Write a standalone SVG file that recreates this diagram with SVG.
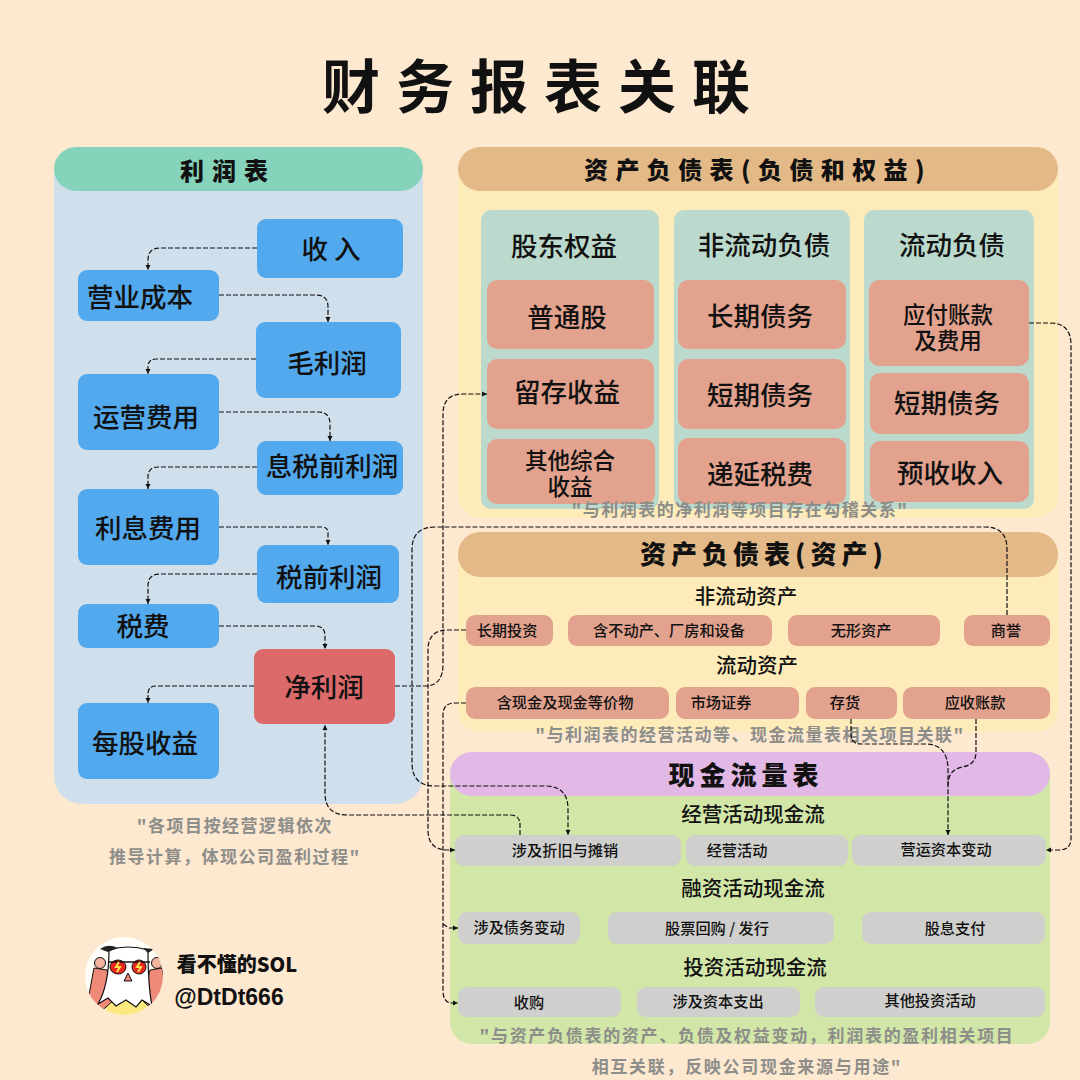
<svg xmlns="http://www.w3.org/2000/svg" width="1080" height="1080" viewBox="0 0 1080 1080">
<style>
text{font-family:"Noto Sans CJK SC","Noto Sans",sans-serif;text-anchor:middle;fill:#111}
.title{font-size:58px;font-weight:700;letter-spacing:16px}
.h{font-size:24px;font-weight:900;letter-spacing:7.4px}
.h1{font-size:24px;font-weight:900;letter-spacing:8px}
.h2{font-size:26px;font-weight:900;letter-spacing:5px}
.l{font-size:26.5px;font-weight:500}
.m{font-size:22.5px;font-weight:500}
.s{font-size:15.2px;font-weight:500}
.sub{font-size:20.5px;font-weight:500}
.cap{font-size:17px;font-weight:700;fill:#8d8d8a;letter-spacing:1.5px}
.cap2{font-size:17px;font-weight:700;fill:#8d8d8a;letter-spacing:1.7px}
.a{font-size:20px;font-weight:900}
.b{font-size:23px;font-weight:700;font-family:"Liberation Sans",sans-serif}
.blue{fill:#53a9ed}.pink{fill:#e2a28d}.grey{fill:#cfcfcd}.teal{fill:#bbd9cc}.yel{fill:#fdebb9}.tan{fill:#e4b988}
#connectors path{fill:none;stroke:#111;stroke-width:1.2;stroke-dasharray:5 2;marker-end:url(#arr)}
#connectors path.n{marker-end:none}
</style>
<defs><marker id="arr" markerUnits="userSpaceOnUse" markerWidth="6" markerHeight="6" refX="5" refY="3" orient="auto"><path d="M0 .5L5 3L0 5.500z" fill="#111"/></marker></defs>
<rect width="1080" height="1080" fill="#fde8d0"/>
<text class="title" x="544" y="108">财务报表关联</text>

<g id="income-panel"><rect x="54" y="147" width="369" height="657" rx="28" fill="#d0dfec"/><rect x="54" y="147" width="369" height="44" rx="22" fill="#86d3bb"/><text class="h1" x="228" y="180">利润表</text></g>
<g id="revenue"><rect class="blue" x="257" y="219" width="146" height="59" rx="9"/><text class="l" x="331" y="259">收 入</text></g>
<g id="cogs"><rect class="blue" x="78" y="270" width="141" height="51" rx="9"/><text class="l" x="140" y="307">营业成本</text></g>
<g id="gross"><rect class="blue" x="256" y="322" width="145" height="76" rx="9"/><text class="l" x="327" y="373">毛利润</text></g>
<g id="opex"><rect class="blue" x="78" y="374" width="141" height="76" rx="9"/><text class="l" x="146" y="427">运营费用</text></g>
<g id="ebit"><rect class="blue" x="257" y="441" width="146" height="54" rx="9"/><text class="l" x="332" y="476">息税前利润</text></g>
<g id="interest"><rect class="blue" x="78" y="489" width="141" height="76" rx="9"/><text class="l" x="148" y="538">利息费用</text></g>
<g id="ebt"><rect class="blue" x="257" y="545" width="142" height="58" rx="9"/><text class="l" x="329" y="587">税前利润</text></g>
<g id="tax"><rect class="blue" x="78" y="604" width="141" height="44" rx="9"/><text class="l" x="143" y="636">税费</text></g>
<g id="net"><rect x="254" y="649" width="141" height="75" rx="9" fill="#dc6a6a"/><text class="l" x="324" y="697">净利润</text></g>
<g id="eps"><rect class="blue" x="78" y="703" width="141" height="76" rx="9"/><text class="l" x="145" y="753">每股收益</text></g>
<text class="cap" x="235" y="832">"各项目按经营逻辑依次</text>
<text class="cap" x="235" y="863">推导计算，体现公司盈利过程"</text>

<g id="liab-panel"><rect class="yel" x="458" y="147" width="600" height="371" rx="22"/><rect class="tan" x="458" y="147" width="600" height="44" rx="22"/><text class="h" x="758" y="179">资产负债表(负债和权益)</text></g>
<g id="equity"><rect class="teal" x="481" y="210" width="178" height="299" rx="10"/><text class="l" x="564" y="256">股东权益</text></g>
<g id="noncur-liab"><rect class="teal" x="674" y="210" width="176" height="299" rx="10"/><text class="l" x="764" y="255">非流动负债</text></g>
<g id="cur-liab"><rect class="teal" x="864" y="210" width="170" height="299" rx="10"/><text class="l" x="952" y="255">流动负债</text></g>
<g id="common"><rect class="pink" x="487" y="280" width="167" height="69" rx="10"/><text class="l" x="567" y="327">普通股</text></g>
<g id="retained"><rect class="pink" x="487" y="359" width="167" height="70" rx="10"/><text class="l" x="567" y="402">留存收益</text></g>
<g id="oci"><rect class="pink" x="487" y="439" width="168" height="65" rx="10"/><text class="m" x="570" y="469">其他综合</text><text class="m" x="570" y="495">收益</text></g>
<g id="ltd"><rect class="pink" x="678" y="280" width="168" height="69" rx="10"/><text class="l" x="760" y="326">长期债务</text></g>
<g id="std"><rect class="pink" x="678" y="359" width="168" height="70" rx="10"/><text class="l" x="760" y="405">短期债务</text></g>
<g id="deftax"><rect class="pink" x="678" y="438" width="168" height="66" rx="10"/><text class="l" x="760" y="484">递延税费</text></g>
<g id="payable"><rect class="pink" x="869" y="280" width="160" height="86" rx="10"/><text class="m" x="948" y="323">应付账款</text><text class="m" x="948" y="349">及费用</text></g>
<g id="std2"><rect class="pink" x="870" y="373" width="159" height="61" rx="10"/><text class="l" x="947" y="413">短期债务</text></g>
<g id="unearned"><rect class="pink" x="870" y="441" width="159" height="61" rx="10"/><text class="l" x="950" y="483">预收收入</text></g>
<text class="cap" x="740" y="516">"与利润表的净利润等项目存在勾稽关系"</text>

<g id="asset-panel"><rect class="yel" x="458" y="532" width="600" height="200" rx="22"/><rect class="tan" x="458" y="532" width="600" height="45" rx="22"/><text class="h2" x="764" y="564">资产负债表(资产)</text></g>
<text class="sub" x="746" y="604">非流动资产</text>
<text class="sub" x="757" y="673">流动资产</text>
<g id="lti"><rect class="pink" x="466" y="615" width="87" height="31" rx="9"/><text class="s" x="507" y="636">长期投资</text></g>
<g id="ppe"><rect class="pink" x="568" y="615" width="204" height="31" rx="9"/><text class="s" x="669" y="636">含不动产、厂房和设备</text></g>
<g id="intang"><rect class="pink" x="788" y="615" width="152" height="31" rx="9"/><text class="s" x="861" y="636">无形资产</text></g>
<g id="goodwill"><rect class="pink" x="964" y="615" width="86" height="31" rx="9"/><text class="s" x="1006" y="636">商誉</text></g>
<g id="cash"><rect class="pink" x="466" y="687" width="203" height="32" rx="9"/><text class="s" x="565" y="708">含现金及现金等价物</text></g>
<g id="securities"><rect class="pink" x="676" y="687" width="123" height="32" rx="9"/><text class="s" x="721" y="708">市场证券</text></g>
<g id="inventory"><rect class="pink" x="806" y="687" width="91" height="32" rx="9"/><text class="s" x="845" y="708">存货</text></g>
<g id="receivable"><rect class="pink" x="903" y="687" width="147" height="32" rx="9"/><text class="s" x="975" y="708">应收账款</text></g>
<text class="cap" x="750" y="741">"与利润表的经营活动等、现金流量表相关项目关联"</text>

<g id="cash-panel"><rect x="450" y="752" width="600" height="292" rx="22" fill="#d2e6a8"/><rect x="450" y="752" width="600" height="44" rx="22" fill="#e2b8e6"/><text class="h2" x="746" y="785">现金流量表</text></g>
<text class="sub" x="753" y="822">经营活动现金流</text>
<text class="sub" x="753" y="896">融资活动现金流</text>
<text class="sub" x="755" y="975">投资活动现金流</text>
<g id="dep"><rect class="grey" x="455" y="835" width="226" height="31" rx="9"/><text class="s" x="565" y="856">涉及折旧与摊销</text></g>
<g id="oper"><rect class="grey" x="686" y="835" width="162" height="31" rx="9"/><text class="s" x="737" y="856">经营活动</text></g>
<g id="wc"><rect class="grey" x="852" y="835" width="194" height="31" rx="9"/><text class="s" x="946" y="855">营运资本变动</text></g>
<g id="debt"><rect class="grey" x="458" y="912" width="122" height="32" rx="9"/><text class="s" x="519" y="933">涉及债务变动</text></g>
<g id="buyback"><rect class="grey" x="608" y="912" width="226" height="32" rx="9"/><text class="s" x="717" y="934">股票回购 / 发行</text></g>
<g id="div"><rect class="grey" x="862" y="912" width="183" height="32" rx="9"/><text class="s" x="955" y="934">股息支付</text></g>
<g id="acq"><rect class="grey" x="458" y="987" width="163" height="30" rx="9"/><text class="s" x="529" y="1008">收购</text></g>
<g id="capex"><rect class="grey" x="637" y="987" width="163" height="30" rx="9"/><text class="s" x="718" y="1007">涉及资本支出</text></g>
<g id="otherinv"><rect class="grey" x="815" y="987" width="230" height="30" rx="9"/><text class="s" x="930" y="1006">其他投资活动</text></g>
<text class="cap2" x="747" y="1042">"与资产负债表的资产、负债及权益变动，利润表的盈利相关项目</text>
<text class="cap2" x="747" y="1073">相互关联，反映公司现金来源与用途"</text>

<g id="connectors">
<path d="M257 248H160Q148 248 148 260V270"/>
<path d="M219 295H316Q328 295 328 307V322"/>
<path d="M256 359H156Q148 359 148 367V374"/>
<path d="M219 412H318Q330 412 330 424V441"/>
<path d="M257 467H158Q148 467 148 477V489"/>
<path d="M219 527H322Q328 527 328 533V545"/>
<path d="M257 574H160Q148 574 148 586V604"/>
<path d="M219 626H315Q325 626 325 636V649"/>
<path d="M254 686H156Q148 686 148 694V703"/>
<path d="M395 686H425Q443 686 443 664V414Q443 394 463 394H487"/>
<path d="M466 630H448Q428 630 428 650V830Q428 850 448 850H455"/>
<path d="M466 703H455Q443 703 443 715V990Q443 1003 452 1003H458"/>
<path d="M443 924L449 928H458"/>
<path d="M1007 615V549Q1007 527 985 527H435Q412 527 412 550V763Q412 786 435 786H545Q568 786 568 809V835"/>
<path d="M520 835V825Q520 815 510 815H347Q325 815 325 793V725"/>
<path d="M851 719V734Q851 744 861 744H925Q948 744 948 770V835"/>
<path class="n" d="M976 719V752Q976 765 962 767Q948 770 948 785"/>
<path d="M1029 323H1050Q1071 323 1071 345V838Q1071 850 1059 850H1046"/>
</g>

<g id="avatar">
<clipPath id="av"><circle cx="124" cy="976" r="39"/></clipPath>
<circle cx="124" cy="976" r="39" fill="#fefdf8"/>
<g clip-path="url(#av)">
<path d="M108 1000H146L150 1016H104z" fill="#fbe97e"/>
<path d="M94 968L107 970L114 1000L98 1014L88 1000z" fill="#ef8a78" stroke="#111"/>
<path d="M150 970L162 968L168 1000L156 1014L142 1000z" fill="#ef8a78" stroke="#111"/>
<circle cx="100" cy="963" r="5.500" fill="#f3b49f" stroke="#111"/>
<circle cx="157" cy="963" r="5.500" fill="#f3b49f" stroke="#111"/>
<path d="M109 950Q128 944 148 950Q148 985 152 1006L142 1000L136 1007L126 1000L116 1006L108 998L98 1004Q109 985 109 950z" fill="#fff" stroke="#111" stroke-width="1.2"/>
<path d="M100 949Q108 943 118 948L108 952z" fill="#222"/><path d="M143 948L154 949L148 953z" fill="#222"/>
<ellipse cx="118" cy="967" rx="8" ry="7" fill="#e8271f" stroke="#111"/><ellipse cx="139" cy="967" rx="7" ry="7" fill="#e8271f" stroke="#111"/>
<path d="M108 962H150" stroke="#111" stroke-width="1.500" fill="none"/>
<path d="M119 962L116 967H120L117 972M140 962L137 967H141L138 972" stroke="#fde24c" stroke-width="2" fill="none"/>
<path d="M128 973L132 981H124z" fill="#e8807a" stroke="#111"/>
</g>
</g>
<text class="a" x="237" y="972">看不懂的SOL</text>
<text class="b" x="229" y="1005">@DtDt666</text>
</svg>
